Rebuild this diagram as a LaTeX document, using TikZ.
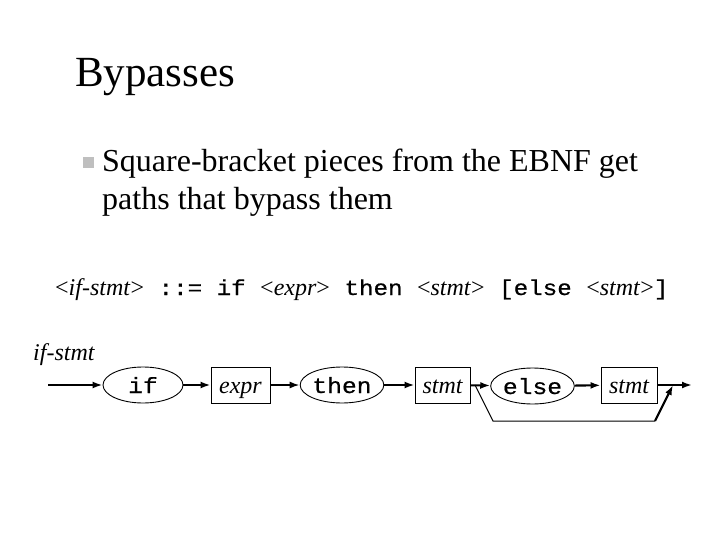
\documentclass[tikz,border=0pt]{standalone}
\usepackage{fontspec}
\setmainfont{Liberation Serif}
\newfontfamily\cour[FakeStretch=1.12,FakeBold=0.6]{Liberation Mono}
\usetikzlibrary{arrows.meta,shapes.geometric}
\begin{document}
\begin{tikzpicture}[x=1pt,y=-1pt,
  txt/.style={anchor=base west, inner sep=0pt},
  term/.style={ellipse, draw, line width=0.9pt, inner sep=0pt, minimum width=80pt, minimum height=36pt, text height=20pt, text depth=4pt, font=\cour\fontsize{22}{26}\selectfont},
  nonterm/.style={rectangle, draw, line width=0.9pt, inner sep=0pt, minimum height=36pt, text height=20pt, text depth=4pt, font=\itshape\fontsize{24}{28}\selectfont},
  conn/.style={line width=2.1pt, -{Latex[length=10pt,width=7pt]}},
  thin/.style={line width=1pt}]
\useasboundingbox (0,0) rectangle (720,540);
\node[txt, font=\fontsize{43}{50}\selectfont] (title) at (75,87) {Bypasses};
\node[fill=black!25, minimum size=11pt, inner sep=0pt] (bullet) at (88,163) {};
\node[txt, font=\fontsize{32}{38}\selectfont] (l1) at (102,172) {Square-bracket pieces from the EBNF get};
\node[txt, font=\fontsize{32}{38}\selectfont] (l2) at (102,210) {paths that bypass them};
\node[txt, font=\fontsize{24}{28}\selectfont] (bnf) at (55,295) {<\textit{if-stmt}>{\cour\fontsize{21.6}{26}\selectfont{} ::= if }<\textit{expr}>{\cour\fontsize{21.6}{26}\selectfont{} then }<\textit{stmt}>{\cour\fontsize{21.6}{26}\selectfont{} [else }<\textit{stmt}>{\cour\fontsize{21.6}{26}\selectfont]}};
\node[txt, font=\itshape\fontsize{24}{28}\selectfont] (lab) at (33,360) {if-stmt};
\coordinate (start) at (48,385);
\node[term] (if) at (143,385) {if};
\node[nonterm, minimum width=59pt] (expr) at (240.5,385) {expr};
\node[term] (then) at (342,385) {then};
\node[nonterm, minimum width=55pt] (stmt1) at (442.5,385) {stmt};
\node[term, minimum width=79pt] (else) at (532.5,386) {else};
\node[nonterm, minimum width=56pt] (stmt2) at (629,385) {stmt};
\coordinate (split) at (475,385);
\coordinate (c1) at (493,421);
\coordinate (c2) at (655,421);
\coordinate (join) at (673,385);
\coordinate (end) at (692,385);
\draw[conn] (start) -- (if);
\draw[conn] (if) -- (expr);
\draw[conn] (expr) -- (then);
\draw[conn] (then) -- (stmt1);
\draw[conn] (stmt1) -- (else);
\draw[conn] (else) -- (stmt2);
\draw[conn] (stmt2) -- (end);
\draw[thin] (split) -- (c1) -- (c2);
\draw[conn] (c2) -- (join);
\end{tikzpicture}
\end{document}
